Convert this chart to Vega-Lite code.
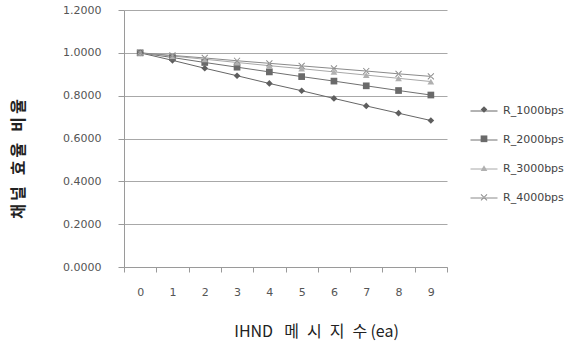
{
  "$schema": "https://vega.github.io/schema/vega-lite/v6.json",
  "autosize": {"type": "none"},
  "padding": {"left": 124, "top": 10, "right": 130, "bottom": 75},
  "width": 323,
  "height": 257,
  "background": "white",
  "config": {"view": {"stroke": null}},
  "data": {"values": [
    {"n": 0, "series": "R_1000bps", "v": 1.0}, {"n": 1, "series": "R_1000bps", "v": 0.965}, {"n": 2, "series": "R_1000bps", "v": 0.928}, {"n": 3, "series": "R_1000bps", "v": 0.893}, {"n": 4, "series": "R_1000bps", "v": 0.857}, {"n": 5, "series": "R_1000bps", "v": 0.823}, {"n": 6, "series": "R_1000bps", "v": 0.787}, {"n": 7, "series": "R_1000bps", "v": 0.752}, {"n": 8, "series": "R_1000bps", "v": 0.718}, {"n": 9, "series": "R_1000bps", "v": 0.684},
    {"n": 0, "series": "R_2000bps", "v": 1.0}, {"n": 1, "series": "R_2000bps", "v": 0.978}, {"n": 2, "series": "R_2000bps", "v": 0.955}, {"n": 3, "series": "R_2000bps", "v": 0.933}, {"n": 4, "series": "R_2000bps", "v": 0.911}, {"n": 5, "series": "R_2000bps", "v": 0.889}, {"n": 6, "series": "R_2000bps", "v": 0.868}, {"n": 7, "series": "R_2000bps", "v": 0.846}, {"n": 8, "series": "R_2000bps", "v": 0.824}, {"n": 9, "series": "R_2000bps", "v": 0.803},
    {"n": 0, "series": "R_3000bps", "v": 1.0}, {"n": 1, "series": "R_3000bps", "v": 0.985}, {"n": 2, "series": "R_3000bps", "v": 0.970}, {"n": 3, "series": "R_3000bps", "v": 0.955}, {"n": 4, "series": "R_3000bps", "v": 0.940}, {"n": 5, "series": "R_3000bps", "v": 0.926}, {"n": 6, "series": "R_3000bps", "v": 0.911}, {"n": 7, "series": "R_3000bps", "v": 0.896}, {"n": 8, "series": "R_3000bps", "v": 0.881}, {"n": 9, "series": "R_3000bps", "v": 0.866},
    {"n": 0, "series": "R_4000bps", "v": 1.0}, {"n": 1, "series": "R_4000bps", "v": 0.988}, {"n": 2, "series": "R_4000bps", "v": 0.976}, {"n": 3, "series": "R_4000bps", "v": 0.963}, {"n": 4, "series": "R_4000bps", "v": 0.951}, {"n": 5, "series": "R_4000bps", "v": 0.939}, {"n": 6, "series": "R_4000bps", "v": 0.927}, {"n": 7, "series": "R_4000bps", "v": 0.915}, {"n": 8, "series": "R_4000bps", "v": 0.902}, {"n": 9, "series": "R_4000bps", "v": 0.890}
  ]},
  "encoding": {
    "x": {
      "field": "n", "type": "quantitative",
      "scale": {"domain": [-0.5, 9.5], "nice": false, "zero": false},
      "axis": {
        "values": [-0.5, 0.5, 1.5, 2.5, 3.5, 4.5, 5.5, 6.5, 7.5, 8.5, 9.5],
        "labelExpr": "datum.value > 9 ? '' : format(datum.value + 0.5, 'd')",
        "labelOffset": 16.15,
        "grid": false,
        "domainColor": "#9a9a9a", "tickColor": "#9a9a9a", "tickSize": 5,
        "labelFont": "DejaVu Sans", "labelFontSize": 11, "labelColor": "#555555", "labelPadding": 14,
        "labelFlush": false, "labelOverlap": false,
        "title": "IHND\u2002\u2009메\u2002시\u2002지\u2002수\u2009(ea)",
        "titleFont": "Noto Sans CJK KR", "titleFontSize": 16, "titleFontWeight": "normal", "titleColor": "#222222",
        "titleX": 192, "titleY": 64, "titleAlign": "center", "titleBaseline": "middle", "titleAnchor": null
      }
    },
    "y": {
      "field": "v", "type": "quantitative",
      "scale": {"domain": [0, 1.2], "nice": false},
      "axis": {
        "values": [0, 0.2, 0.4, 0.6, 0.8, 1.0, 1.2],
        "format": ".4f",
        "grid": true, "gridColor": "#a8a8a8",
        "domainColor": "#9a9a9a", "tickColor": "#9a9a9a", "tickSize": 6,
        "labelFont": "DejaVu Sans", "labelFontSize": 11, "labelColor": "#555555", "labelPadding": 17,
        "labelFlush": false,
        "title": "채\u2009널\u00a0\u00a0\u00a0효\u2009율\u00a0\u00a0\u00a0비\u2009율",
        "titleFont": "Noto Sans CJK KR", "titleFontSize": 16, "titleFontWeight": "bold", "titleColor": "#222222",
        "titleX": -106, "titleY": 148.5, "titleAlign": "center", "titleBaseline": "middle", "titleAngle": -90
      }
    }
  },
  "layer": [
    {
      "mark": {"type": "line", "strokeWidth": 1},
      "encoding": {
        "stroke": {"field": "series", "type": "nominal", "title": null,
          "scale": {"range": ["#666666", "#707070", "#a8a8a8", "#8a8a8a"]},
          "legend": {
            "orient": "none", "legendX": 346, "legendY": 87,
            "symbolType": "stroke", "symbolSize": 729, "symbolStrokeWidth": 1,
            "labelFont": "DejaVu Sans", "labelFontSize": 11, "labelColor": "#444444", "labelOffset": 5,
            "rowPadding": 10, "padding": 0
          }}
      }
    },
    {
      "mark": {"type": "point", "filled": true, "opacity": 1},
      "encoding": {
        "fill": {"field": "series", "type": "nominal", "title": null,
          "scale": {"domain": ["R_1000bps", "R_2000bps", "R_3000bps", "R_4000bps"], "range": ["#5e5e5e", "#6a6a6a", "#b0b0b0", "#8c8c8c"]},
          "legend": {
            "orient": "none", "legendX": 354.5, "legendY": 94,
            "symbolSize": 45, "symbolStrokeWidth": 0,
            "labelFont": "DejaVu Sans", "labelFontSize": 11, "labelOpacity": 0, "labelOffset": 5,
            "rowPadding": 17.3, "padding": 0
          }},
        "shape": {"field": "series", "type": "nominal", "title": null,
          "scale": {"domain": ["R_1000bps", "R_2000bps", "R_3000bps", "R_4000bps"], "range": ["diamond", "square", "triangle-up", "M-1,-0.8L-0.8,-1L1,0.8L0.8,1ZM-1,0.8L-0.8,1L1,-0.8L0.8,-1Z"]}},
        "size": {"value": 45}
      }
    }
  ]
}
